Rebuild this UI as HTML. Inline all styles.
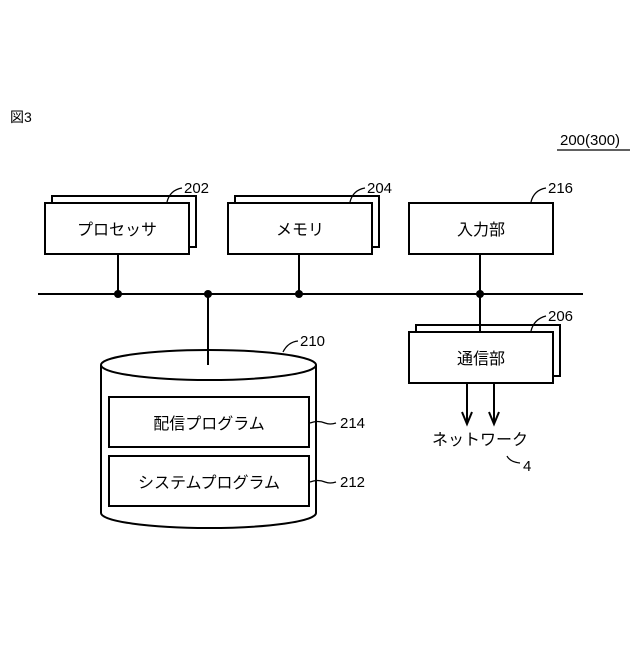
<!DOCTYPE html>
<html><head><meta charset="utf-8"><style>
html,body{margin:0;padding:0;background:#fff;}
svg text{font-family:"Liberation Sans","Noto Sans CJK JP",sans-serif;fill:#000;}
</style></head><body>
<svg width="640" height="640" viewBox="0 0 640 640" xmlns="http://www.w3.org/2000/svg">
<g fill="none" stroke="#000" stroke-width="2">
<rect x="52" y="196" width="144" height="51" fill="#fff"/>
<rect x="45" y="203" width="144" height="51" fill="#fff"/>
<rect x="235" y="196" width="144" height="51" fill="#fff"/>
<rect x="228" y="203" width="144" height="51" fill="#fff"/>
<rect x="409" y="203" width="144" height="51" fill="#fff"/>
<rect x="416" y="325" width="144" height="51" fill="#fff"/>
<rect x="409" y="332" width="144" height="51" fill="#fff"/>
<line x1="38" y1="294" x2="583" y2="294"/>
<line x1="118" y1="254" x2="118" y2="294"/>
<line x1="299" y1="254" x2="299" y2="294"/>
<line x1="480" y1="254" x2="480" y2="332"/>
<path d="M101 365 L101 513 A107.5 15 0 0 0 316 513 L316 365" fill="#fff"/>
<ellipse cx="208.5" cy="365" rx="107.5" ry="15" fill="#fff"/>
<line x1="208" y1="294" x2="208" y2="365"/>
<rect x="109" y="397" width="200" height="50"/>
<rect x="109" y="456" width="200" height="50"/>
<line x1="467" y1="383" x2="467" y2="422"/>
<line x1="494" y1="383" x2="494" y2="422"/>
<polyline points="462,412 467,424 472,412"/>
<polyline points="489,412 494,424 499,412"/>
</g>
<g fill="#000">
<circle cx="118" cy="294" r="4"/><circle cx="208" cy="294" r="4"/>
<circle cx="299" cy="294" r="4"/><circle cx="480" cy="294" r="4"/>
</g>
<g fill="none" stroke="#000" stroke-width="1.3">
<path d="M167 202 Q170 190 182 188"/>
<path d="M350 202 Q353 190 365 188"/>
<path d="M531 202 Q534 190 546 188"/>
<path d="M531 331 Q534 319 546 316"/>
<path d="M283 352 Q288 342 298 341"/>
<path d="M310 423 Q318 420 325 423 Q330 425 336 423"/>
<path d="M310 482 Q318 479 325 482 Q330 484 336 482"/>
<path d="M507 456 Q510 462 520 463"/>
</g>
<g font-size="16">
<text x="10" y="122" font-size="14">図3</text>
<text x="560" y="145" font-size="15">200(300)</text>
<line x1="557" y1="150" x2="630" y2="150" stroke="#000" stroke-width="1.3"/>
<text x="184" y="193" font-size="15">202</text>
<text x="367" y="193" font-size="15">204</text>
<text x="548" y="193" font-size="15">216</text>
<text x="548" y="321" font-size="15">206</text>
<text x="300" y="346" font-size="15">210</text>
<text x="340" y="428" font-size="15">214</text>
<text x="340" y="487" font-size="15">212</text>
<text x="523" y="471" font-size="15">4</text>
<text x="117" y="235" text-anchor="middle">プロセッサ</text>
<text x="300" y="235" text-anchor="middle">メモリ</text>
<text x="481" y="235" text-anchor="middle">入力部</text>
<text x="481" y="364" text-anchor="middle">通信部</text>
<text x="209" y="429" text-anchor="middle">配信プログラム</text>
<text x="209" y="488" text-anchor="middle">システムプログラム</text>
<text x="480" y="445" text-anchor="middle">ネットワーク</text>
</g>
</svg>
</body></html>
